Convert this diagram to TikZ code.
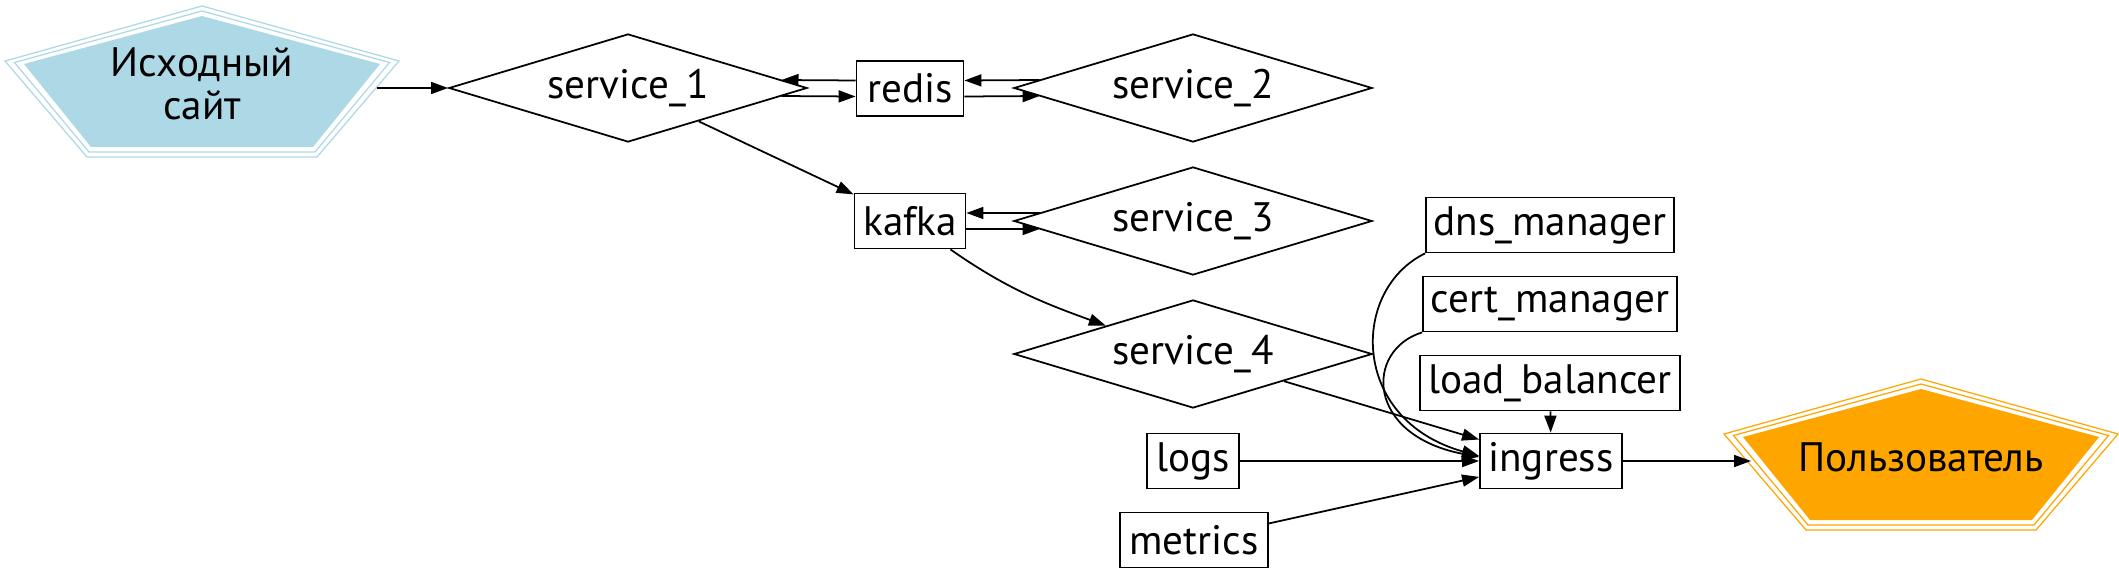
\documentclass[tikz,border=0pt]{standalone}
\usepackage{fontspec}
\setmainfont{PT Sans}
\usetikzlibrary{shapes.geometric,arrows.meta}
\definecolor{srcblue}{HTML}{ADD8E6}
\definecolor{userorange}{HTML}{FFA500}
\tikzset{%
  box/.style      = {draw, rectangle, minimum height = 0.55cm,
    inner sep = 0pt}, % Store or tool
  svc/.style      = {draw, diamond, aspect = 3.3, inner sep = 0pt,
    minimum width = 3.58cm, minimum height = 1.08cm}, % Service
  label/.style    = {align = center}
}
% Pentagon ring number #1 round the centre (0,0) of the current scope
\newcommand{\pentring}[1]{%
  (0,-65.5-5*#1) -- (178+9.5*#1,-17.5-1.5*#1) -- (111+2*#1,65.5+5*#1)
  -- (-111-2*#1,65.5+5*#1) -- (-178-9.5*#1,-17.5-1.5*#1) -- cycle}

\begin{document}
\begin{tikzpicture}[x=0.01cm, y=-0.01cm, line width=0.5pt, >={Triangle[length=0.17cm, width=0.12cm]},
  every node/.append style={font=\fontsize{11.7}{12.2}\selectfont}]
\useasboundingbox (0,0) rectangle (2119,573);
	% Source and user :
	\begin{scope}[shift={(202,81.5)}]
		\fill [srcblue] \pentring{0};
		\foreach \k in {1,2}
			\draw [srcblue, line width=0.35pt] \pentring{\k};
	\end{scope}
	\begin{scope}[shift={(1921,454.5)}]
		\fill [userorange] \pentring{0};
		\foreach \k in {1,2}
			\draw [userorange, line width=0.35pt] \pentring{\k};
	\end{scope}
	\node [label] (src) at (202,84) {Исходный\\сайт};
	\node [label] (user) at (1921,457) {Пользователь};
	\coordinate (src out) at (377,88);
	\coordinate (user in) at (1751,461);
\draw
	% Services and stores :
	node at (628,88) [svc] (service1) {service\_1}
	node at (910,88.5) [box, minimum width=1.07cm] (redis) {redis}
	node at (1193,88) [svc] (service2) {service\_2}
	node at (910,221) [box, minimum width=1.11cm] (kafka) {kafka}
	node at (1193,221) [svc] (service3) {service\_3}
	node at (1193,354) [svc] (service4) {service\_4}
	% Tools round the ingress :
	node at (1550,225) [box, minimum width=2.48cm] (dns) {dns\_manager}
	node at (1550,304) [box, minimum width=2.54cm] (cert) {cert\_manager}
	node at (1550,383) [box, minimum width=2.60cm] (balancer) {load\_balancer}
	node at (1551,461) [box, minimum width=1.42cm] (ingress) {ingress}
	node at (1193,461) [box, minimum width=0.92cm] (logs) {logs}
	node at (1194,540) [box, minimum width=1.48cm] (metrics) {metrics};
	% Joining blocks, the pairs run side by side
	\draw[->] (src out) -- (service1);
	\draw[->] ([yshift=0.08cm]redis.west) -- ([xshift=-0.265cm, yshift=0.08cm]service1.east);
	\draw[->] ([xshift=-0.265cm, yshift=-0.08cm]service1.east) -- ([yshift=-0.08cm]redis.west);
	\draw[->] ([yshift=-0.08cm]redis.east) -- ([xshift=0.265cm, yshift=-0.08cm]service2.west);
	\draw[->] ([xshift=0.265cm, yshift=0.08cm]service2.west) -- ([yshift=0.08cm]redis.east);
	\draw[->] (service1) -- (kafka);
	\draw[->] ([yshift=-0.08cm]kafka.east) -- ([xshift=0.265cm, yshift=-0.08cm]service3.west);
	\draw[->] ([xshift=0.265cm, yshift=0.08cm]service3.west) -- ([yshift=0.08cm]kafka.east);
	\draw[->] ([xshift=-0.16cm]kafka.south east) to[out=-35, in=160] (service4.162);
	\draw[->] (service4) -- (ingress);
	\draw[->] (dns.south west) .. controls (1350,290) and (1350,420) .. ([yshift=0.05cm]ingress.west);
	\draw[->] (cert.south west) .. controls (1365,350) and (1365,435) .. ([yshift=0.04cm]ingress.west);
	\draw[->] (balancer) -- (ingress);
	\draw[->] (logs) -- (ingress);
	\draw[->] (metrics) -- (ingress);
	\draw[->] (ingress) -- (user in);
\end{tikzpicture}
\end{document}
